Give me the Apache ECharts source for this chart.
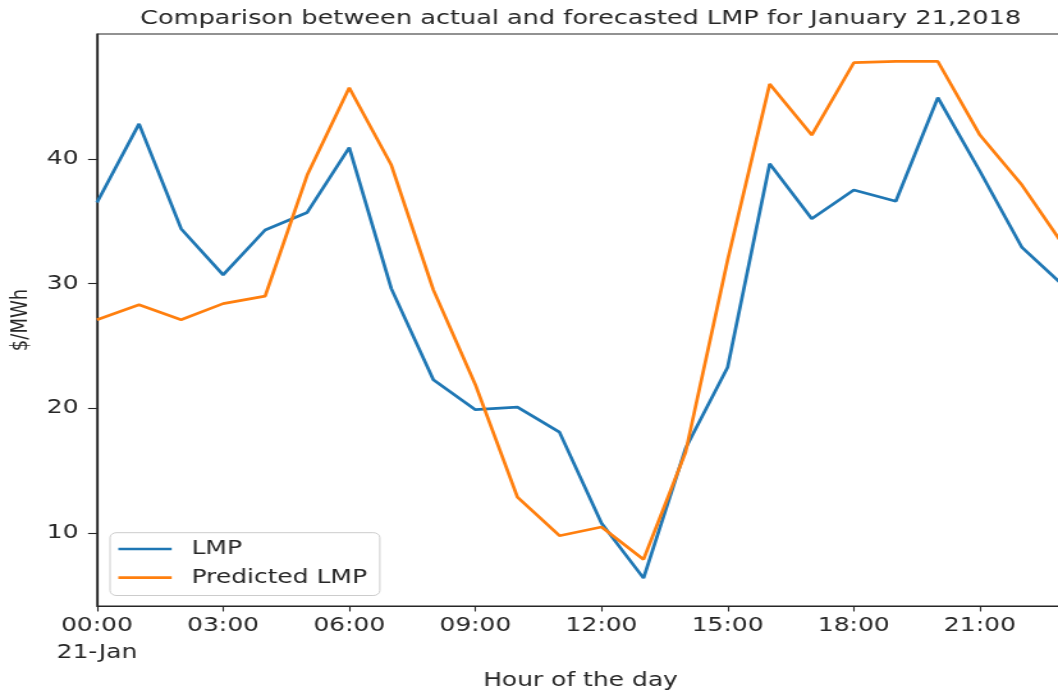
<!DOCTYPE html>
<html>
<head>
<meta charset="utf-8">
<script src="https://cdn.jsdelivr.net/npm/echarts@6/dist/echarts.min.js"></script>
<style>
html, body { margin: 0; padding: 0; background: #fff; overflow: hidden; }
#chart { width: 827px; height: 690px; transform: scaleX(1.2793); transform-origin: 0 0; }
</style>
</head>
<body>
<div id="chart"></div>
<script>
const hours = ['00:00','01:00','02:00','03:00','04:00','05:00','06:00','07:00','08:00','09:00','10:00','11:00',
               '12:00','13:00','14:00','15:00','16:00','17:00','18:00','19:00','20:00','21:00','22:00','23:00'];
const dateLabel = '21-Jan';
const lmp = [36.5, 42.8, 34.4, 30.7, 34.3, 35.7, 40.9, 29.6, 22.3, 19.9, 20.1, 18.1,
             10.8, 6.4, 16.8, 23.3, 39.6, 35.2, 37.5, 36.6, 44.9, 39.0, 32.9, 29.8];
const predicted = [27.1, 28.3, 27.1, 28.4, 29.0, 38.7, 45.7, 39.5, 29.5, 21.9, 12.9, 9.8,
                   10.5, 7.9, 16.5, 31.9, 46.0, 41.9, 47.7, 47.8, 47.8, 41.9, 37.9, 33.0];
const yTicks = [10, 20, 30, 40];
const seriesNames = ['LMP', 'Predicted LMP'];
const titleText = 'Comparison between actual and forecasted LMP for January 21,2018';
const xName = 'Hour of the day';
const yName = '$/MWh';

const FONT = 'DejaVu Sans';
const TXT = '#262626';
const chart = echarts.init(document.getElementById('chart'), null, { renderer: 'canvas' });
chart.setOption({
  animation: false,
  textStyle: { fontFamily: FONT },
  title: {
    text: titleText,
    left: 453.8, top: 9, padding: 0,
    textAlign: 'center',
    textStyle: { fontFamily: FONT, fontSize: 20, fontWeight: 'normal', color: TXT, lineHeight: 20 }
  },
  grid: {
    left: 75.8, right: -4.7, top: 34, bottom: 84,
    show: true, borderColor: TXT, borderWidth: 1.2,
    containLabel: false, outerBoundsMode: 'none'
  },
  legend: {
    orient: 'vertical',
    left: 86, top: 532.7,
    padding: [6.3, 10, 7.8, 6.5],
    icon: 'rect',
    itemWidth: 41.7, itemHeight: 2.7, itemGap: 8.7,
    borderColor: '#cccccc', borderWidth: 1, borderRadius: 5,
    backgroundColor: 'rgba(255,255,255,0.8)',
    textStyle: { fontFamily: FONT, fontSize: 19.5, color: TXT, lineHeight: 20, padding: [0, 0, 0, 10.5] },
    data: seriesNames
  },
  xAxis: {
    type: 'category',
    data: hours,
    boundaryGap: false,
    name: xName,
    nameLocation: 'middle',
    nameGap: 55.5,
    nameTextStyle: { fontFamily: FONT, fontSize: 19.5, color: TXT, lineHeight: 20 },
    axisLine: { show: true, lineStyle: { color: TXT, width: 1.2 } },
    axisTick: { show: true, interval: 2, length: 5.5, lineStyle: { color: TXT, width: 1.1 } },
    axisLabel: {
      interval: 2, margin: 7, color: TXT, fontFamily: FONT, fontSize: 19.5, lineHeight: 26.5,
      formatter: (v, i) => i === 0 ? v + '\n' + dateLabel : v
    },
    splitLine: { show: false }
  },
  yAxis: {
    type: 'value',
    min: 4.17, max: 50.0,
    name: yName,
    nameLocation: 'middle',
    nameGap: 47.5,
    nameTextStyle: { fontFamily: FONT, fontSize: 18, color: TXT, lineHeight: 18 },
    axisLine: { show: true, lineStyle: { color: TXT, width: 1.2 } },
    axisTick: { show: true, length: 7, customValues: yTicks, lineStyle: { color: TXT, width: 1.1 } },
    axisLabel: { margin: 14.5, color: TXT, fontFamily: FONT, fontSize: 19.5, customValues: yTicks },
    splitLine: { show: false }
  },
  series: [
    { name: seriesNames[0], type: 'line', data: lmp, symbol: 'none', lineStyle: { color: '#1f77b4', width: 2.7 }, itemStyle: { color: '#1f77b4' } },
    { name: seriesNames[1], type: 'line', data: predicted, symbol: 'none', lineStyle: { color: '#ff7f0e', width: 2.7 }, itemStyle: { color: '#ff7f0e' } }
  ]
});
</script>
</body>
</html>
